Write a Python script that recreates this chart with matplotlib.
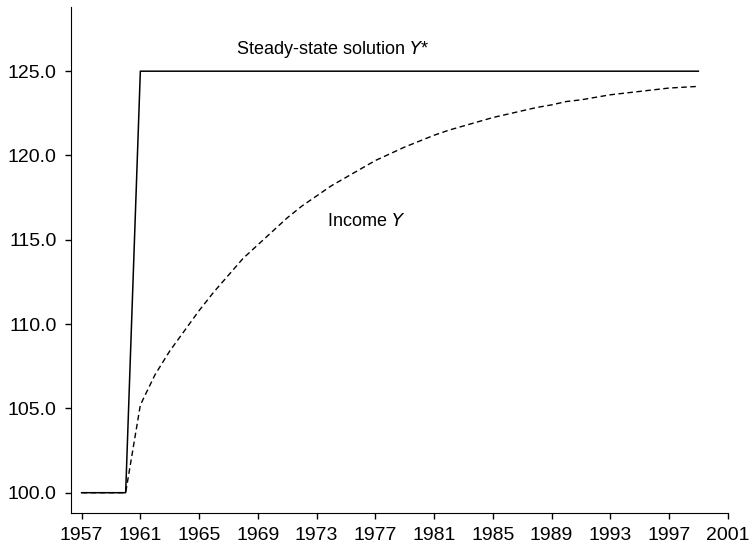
import matplotlib
matplotlib.use("Agg")
import matplotlib.pyplot as plt

plt.rcParams['font.family'] = ['Liberation Sans', 'DejaVu Sans']

years = list(range(1957, 2000))

# steady-state solution Y*
steady = [100.0] * 4 + [125.0] * 39

# income Y
income = [100.0, 100.0, 100.0, 100.0,
          105.2, 107.0, 108.4, 109.6, 110.8, 111.9, 112.9, 113.9, 114.7, 115.5,
          116.3, 117.0, 117.6, 118.2, 118.7, 119.2, 119.7, 120.1, 120.5, 120.85,
          121.2, 121.5, 121.75, 122.0, 122.25, 122.45, 122.65, 122.85, 123.0, 123.2,
          123.3, 123.45, 123.6, 123.7, 123.8, 123.9, 124.0, 124.05, 124.1]

xticks = list(range(1957, 2002, 4))
yticks = [100.0, 105.0, 110.0, 115.0, 120.0, 125.0]

fig = plt.figure(figsize=(7.51, 5.48), dpi=100)
ax = fig.add_axes([0.094, 0.064, 0.875, 0.923])

ax.plot(years, steady, color='black', lw=1.1)
ax.plot(years, income, color='black', lw=1.0, ls=(0, (4, 2.5)))

ax.text(1967.5, 126.3, 'Steady-state solution $Y$*', fontsize=13, va='center')
ax.text(1973.7, 116.1, 'Income $Y$', fontsize=13, va='center')

ax.set_xlim(1956.25, 2001)
ax.set_ylim(98.8, 128.8)
ax.set_xticks(xticks)
ax.set_yticks(yticks)
ax.set_yticklabels(['%.1f' % v for v in yticks])

for s in ['top', 'right']:
    ax.spines[s].set_visible(False)
ax.tick_params(labelsize=14, direction='out', length=4, width=1, pad=6)

fig.savefig('out.png', dpi=100)
